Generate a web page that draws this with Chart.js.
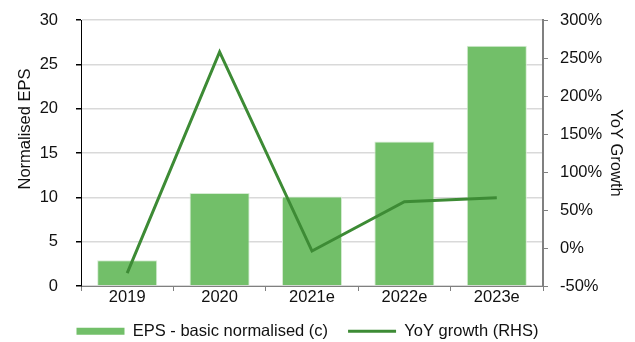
<!DOCTYPE html>
<html>
<head>
    <title>EPS chart</title>
    <style>
        body { margin: 0; background: #fff; }
        #wrap { width: 635px; height: 342px; }
    </style>
    <script src="https://cdn.jsdelivr.net/npm/chart.js"></script>
</head>
<body>
    <div id="wrap"><canvas id="epsChart" width="635" height="342"></canvas></div>
    <script>
        // data
        const years = ["2019", "2020", "2021e", "2022e", "2023e"];
        const eps = [2.9, 10.5, 10.1, 16.3, 27.1];
        const yoyGrowth = [-33, 258, -4, 61, 66];

        const font = { family: "'Liberation Sans', Arial, sans-serif", size: 16.5 };
        Chart.defaults.font = font;
        Chart.defaults.color = "#111";

        // move the legend up a bit and a little to the left, like the original
        const legendNudge = {
            id: "legendNudge",
            afterLayout(c) {
                let l = c.legend;
                l.top -= 6; l.bottom -= 6;
                l.left -= 10; l.right -= 10;
            }
        };

        // left axis title sits above the middle in the original
        const leftTitle = {
            id: "leftTitle",
            afterDraw(c) {
                let g = c.ctx;
                g.save();
                g.translate(25, 129);
                g.rotate(-Math.PI / 2);
                g.font = "16.5px 'Liberation Sans', Arial, sans-serif";
                g.fillStyle = "#111";
                g.textAlign = "center";
                g.textBaseline = "middle";
                g.fillText("Normalised EPS", 0, 0);
                g.restore();
            }
        };

        // fixed side widths, and don't let tick padding push the plot down
        function sideFit(w) {
            return function(s) {
                s.width = w;
                s.paddingTop = 0;
                s.paddingBottom = 0;
            };
        }

        let ctx = document.getElementById("epsChart").getContext("2d");

        let chart = new Chart(ctx, {
            type: "bar",
            data: {
                labels: years,
                datasets: [{
                    label: "EPS - basic normalised (c)",
                    data: eps,
                    backgroundColor: "#72bf69",
                    borderColor: "#d6ecd3",
                    borderWidth: 1,
                    categoryPercentage: 1,
                    barPercentage: 0.65,
                    order: 1,
                    yAxisID: "y"
                }, {
                    type: "line",
                    label: "YoY growth (RHS)",
                    data: yoyGrowth,
                    borderColor: "#3d8b35",
                    backgroundColor: "#3d8b35",
                    borderWidth: 3,
                    pointRadius: 0,
                    tension: 0,
                    order: 0,
                    yAxisID: "y1"
                }]
            },
            options: {
                responsive: false,
                animation: false,
                layout: { padding: { top: 20, bottom: -13.5, left: 0, right: 0 } },
                plugins: {
                    tooltip: { enabled: false },
                    legend: {
                        position: "bottom",
                        labels: {
                            usePointStyle: true,
                            pointStyleWidth: 48,
                            boxHeight: 7,
                            padding: 20,
                            generateLabels: function(c) {
                                return c.data.datasets.map(function(ds, i) {
                                    let isLine = ds.type === "line";
                                    return {
                                        text: ds.label,
                                        datasetIndex: i,
                                        fillStyle: ds.backgroundColor,
                                        strokeStyle: ds.borderColor,
                                        lineWidth: isLine ? 3 : 0,
                                        pointStyle: isLine ? "line" : "rect",
                                        fontColor: "#111"
                                    };
                                });
                            }
                        }
                    }
                },
                scales: {
                    x: {
                        offset: true,
                        grid: {
                            offset: true,
                            drawOnChartArea: false,
                            tickLength: 5,
                            tickColor: "#808080"
                        },
                        border: { color: "#808080", width: 1 },
                        ticks: { padding: -3, maxRotation: 0 },
                        afterFit: function(s) { s.height = 23; }
                    },
                    y: {
                        position: "left",
                        min: 0,
                        max: 30,
                        ticks: { stepSize: 5, padding: 18 },
                        grid: { color: "#d9d9d9", tickColor: "#000", tickLength: 5, lineWidth: 1.5 },
                        border: { color: "#000", width: 1 },
                        title: { display: false },
                        afterFit: sideFit(81)
                    },
                    y1: {
                        position: "right",
                        min: -50,
                        max: 300,
                        ticks: {
                            stepSize: 50,
                            padding: 12,
                            callback: function(v) { return v + "%"; }
                        },
                        grid: { drawOnChartArea: false, tickColor: "#808080", tickLength: 5 },
                        border: { color: "#808080", width: 2 },
                        title: { display: true, text: "YoY Growth", padding: { top: 10, bottom: 0 } },
                        afterFit: sideFit(92)
                    }
                }
            },
            plugins: [legendNudge, leftTitle]
        });
    </script>
</body>
</html>
